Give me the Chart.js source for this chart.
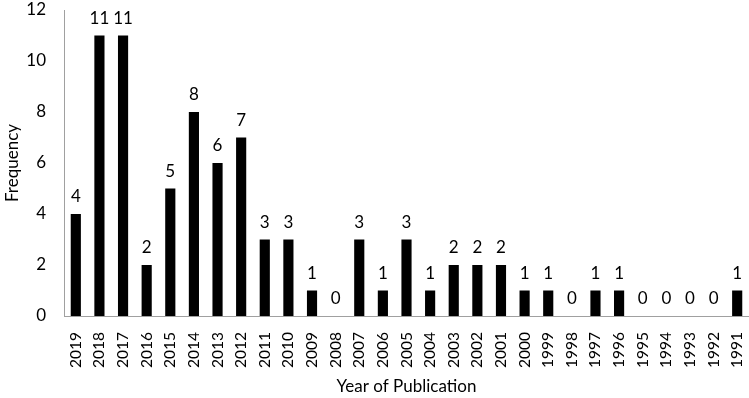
<!DOCTYPE html>
<html>
<head>
<meta charset="utf-8">
<script src="https://cdn.jsdelivr.net/npm/chart.js@4"></script>
<style>
  html, body { margin: 0; padding: 0; background: #fff; }
  #wrap { width: 749px; height: 398px; }
</style>
</head>
<body>
<div id="wrap"><canvas id="chart"></canvas></div>
<script>
const years = ['2019','2018','2017','2016','2015','2014','2013','2012','2011','2010','2009','2008','2007','2006','2005','2004','2003','2002','2001','2000','1999','1998','1997','1996','1995','1994','1993','1992','1991'];
const frequency = [4, 11, 11, 2, 5, 8, 6, 7, 3, 3, 1, 0, 3, 1, 3, 1, 2, 2, 2, 1, 1, 0, 1, 1, 0, 0, 0, 0, 1];
const yTicks = [0, 2, 4, 6, 8, 10, 12];

const fontFamily = "Lato, 'Open Sans', sans-serif";

// labels above each bar
const valueLabels = {
    id: 'valueLabels',
    afterDatasetsDraw(chart) {
        const ctx = chart.ctx;
        const meta = chart.getDatasetMeta(0);
        ctx.save();
        ctx.fillStyle = '#000';
        ctx.font = `17px ${fontFamily}`;
        ctx.textAlign = 'center';
        ctx.textBaseline = 'alphabetic';
        meta.data.forEach((bar, i) => {
            ctx.fillText(String(frequency[i]), bar.x, bar.y - 12);
        });
        ctx.restore();
    }
};

new Chart(document.getElementById('chart').getContext('2d'), {
    type: 'bar',
    data: {
        labels: years,
        datasets: [{
            data: frequency,
            backgroundColor: '#000',
            borderWidth: 0,
            barPercentage: 0.43,
            categoryPercentage: 1
        }]
    },
    options: {
        responsive: true,
        maintainAspectRatio: false,
        animation: false,
        layout: { padding: 0 },
        plugins: {
            legend: { display: false },
            tooltip: { enabled: false }
        },
        scales: {
            x: {
                grid: { display: false, drawTicks: false },
                border: { color: '#a0a0a0', width: 1 },
                ticks: {
                    color: '#000',
                    font: { family: fontFamily, size: 15.5 },
                    maxRotation: 90,
                    minRotation: 90,
                    autoSkip: false,
                    padding: 16
                },
                title: {
                    display: true,
                    text: 'Year of Publication',
                    color: '#000',
                    font: { family: fontFamily, size: 17 },
                    padding: { top: 10, bottom: 1 }
                },
                afterFit: (scale) => {
                    scale.height = 82;
                    scale.paddingLeft = 0;
                    scale.paddingRight = 0;
                }
            },
            y: {
                min: 0,
                max: 12,
                afterBuildTicks: (axis) => { axis.ticks = yTicks.map(v => ({ value: v })); },
                grid: { display: false, drawTicks: false },
                border: { color: '#a0a0a0', width: 1 },
                ticks: {
                    color: '#000',
                    font: { family: fontFamily, size: 17 },
                    padding: 18
                },
                title: {
                    display: true,
                    text: 'Frequency',
                    color: '#000',
                    font: { family: fontFamily, size: 17 },
                    padding: { top: 2, bottom: 2 }
                },
                afterFit: (scale) => {
                    scale.width = 64;
                    scale.paddingTop = 10;
                    scale.paddingBottom = 0;
                }
            }
        }
    },
    plugins: [valueLabels]
});
</script>
</body>
</html>
